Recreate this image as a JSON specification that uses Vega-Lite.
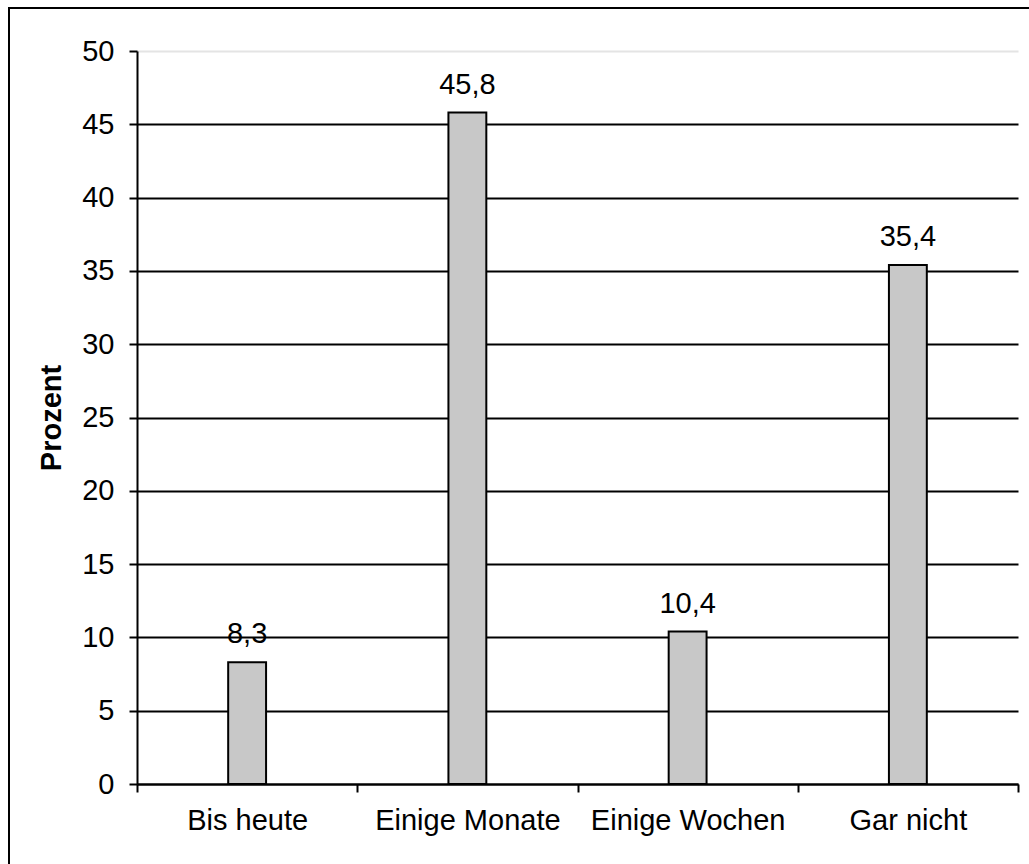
{
  "$schema": "https://vega.github.io/schema/vega-lite/v6.json",
  "autosize": {"type": "none"},
  "padding": {"left": 9, "top": 8, "right": 0, "bottom": 0},
  "width": 1023,
  "height": 859,
  "background": "white",
  "config": {
    "view": {"stroke": "black", "strokeWidth": 2, "fill": "white"},
    "font": "Liberation Sans",
    "locale": {
      "number": {"decimal": ",", "thousands": ".", "grouping": [3], "currency": ["", " €"]}
    }
  },
  "data": {
    "values": [
      {"Dauer": "Bis heute", "Prozent": 8.3},
      {"Dauer": "Einige Monate", "Prozent": 45.8},
      {"Dauer": "Einige Wochen", "Prozent": 10.4},
      {"Dauer": "Gar nicht", "Prozent": 35.4}
    ]
  },
  "encoding": {
    "x": {
      "field": "Dauer",
      "type": "nominal",
      "sort": null,
      "scale": {"range": [128, 1009], "paddingInner": 0, "paddingOuter": 0},
      "axis": {
        "title": null,
        "offset": -83,
        "grid": false,
        "tickBand": "extent",
        "labelAngle": 0,
        "labelFontSize": 29,
        "labelColor": "black",
        "labelPadding": 14,
        "labelLimit": 0,
        "labelOverlap": false,
        "domainColor": "black",
        "domainWidth": 2,
        "tickColor": "black",
        "tickWidth": 2,
        "tickSize": 8
      }
    },
    "y": {
      "field": "Prozent",
      "type": "quantitative",
      "scale": {"domain": [0, 50], "nice": false, "range": [776, 43]},
      "axis": {
        "title": "Prozent",
        "titleFontSize": 29,
        "titleFontWeight": "bold",
        "titleColor": "black",
        "titlePadding": 15,
        "offset": -128,
        "values": [0, 5, 10, 15, 20, 25, 30, 35, 40, 45, 50],
        "format": "d",
        "labelFontSize": 29,
        "labelColor": "black",
        "labelPadding": 15,
        "domainColor": "black",
        "domainWidth": 2,
        "tickColor": "black",
        "tickWidth": 2,
        "tickSize": 8,
        "grid": true,
        "gridWidth": 2,
        "gridColor": {
          "condition": {"test": "datum.value === 50", "value": "#e4e4e4"},
          "value": "black"
        }
      }
    }
  },
  "layer": [
    {
      "mark": {
        "type": "bar",
        "fill": "#c8c8c8",
        "stroke": "black",
        "strokeWidth": 2,
        "width": {"band": 0.172}
      }
    },
    {
      "mark": {
        "type": "text",
        "baseline": "alphabetic",
        "dy": -19,
        "fontSize": 29,
        "fill": "black"
      },
      "encoding": {
        "text": {"field": "Prozent", "type": "quantitative", "format": ".1f"}
      }
    }
  ]
}
